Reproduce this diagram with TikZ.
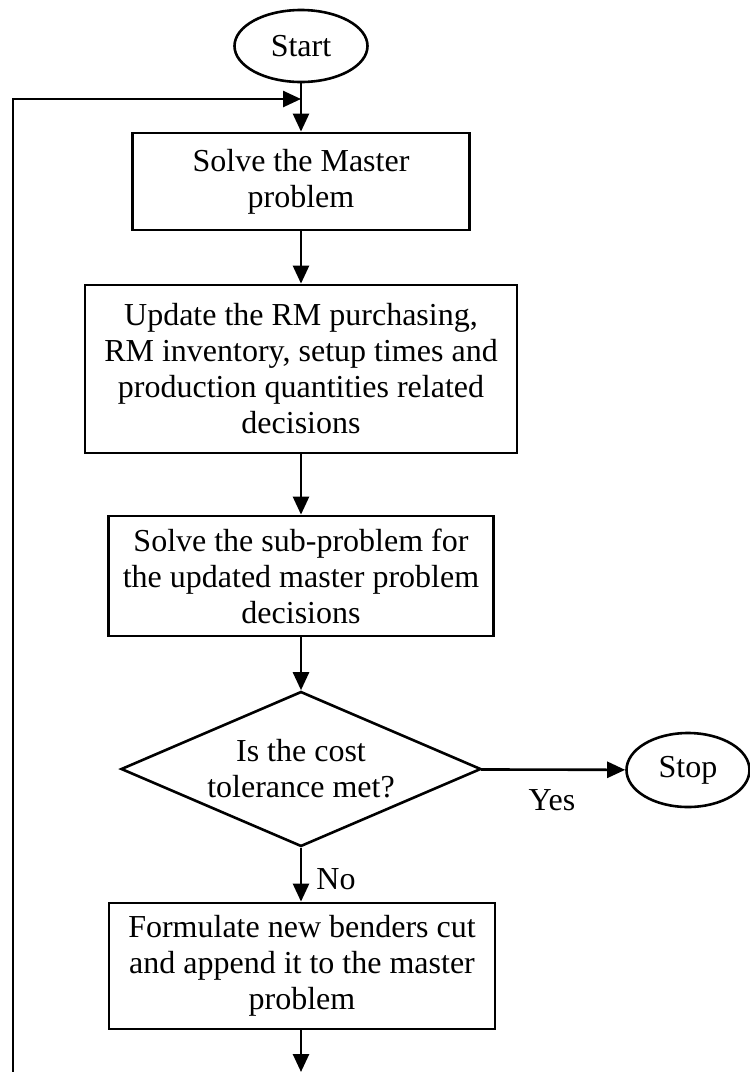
\documentclass[tikz,border=0pt]{standalone}
\usepackage{fontspec}
\setmainfont{Liberation Serif}
\usetikzlibrary{shapes.geometric,arrows.meta}
\begin{document}
\begin{tikzpicture}[x=1pt,y=1pt,
  every node/.style={font=\fontsize{32}{36}\selectfont},
  procbox/.style={draw,line width=2.8pt,rectangle,align=center,inner sep=0pt},
  term/.style={draw,line width=2.6pt,ellipse,inner sep=0pt},
  decide/.style={draw,line width=2.6pt,diamond,align=center,inner sep=-14pt,shape aspect=2.32,minimum width=360pt,minimum height=155pt},
  arr/.style={line width=2.6pt,-{Triangle[length=18pt,width=16pt]}},
  plain/.style={line width=2.6pt}]
\useasboundingbox (0,0) rectangle (750,-1072);
\node[term,minimum width=133pt,minimum height=72pt] (start) at (301,-46) {Start};
\node[procbox,minimum width=337pt,minimum height=97pt] (b1) at (301,-181.5) {Solve the Master\\problem};
\node[procbox,minimum width=432pt,minimum height=168pt] (b2) at (301,-369) {Update the RM purchasing,\\RM inventory, setup times and\\production quantities related\\decisions};
\node[procbox,minimum width=385pt,minimum height=120pt] (b3) at (301,-576) {Solve the sub-problem for\\the updated master problem\\decisions};
\node[decide] (dec) at (301,-769) {Is the cost\\tolerance met?};
\node[term,minimum width=123pt,minimum height=74pt] (stop) at (688,-770) {Stop};
\node[procbox,minimum width=386pt,minimum height=126pt] (b4) at (302,-966) {Formulate new benders cut\\and append it to the master\\problem};
\node (yes) at (552,-800) {Yes};
\node (no) at (336,-879) {No};
\coordinate (bot) at (dec.south |- 0,-1072);
\coordinate (lb) at (13,-1075);
\coordinate (lt) at (13,-99);
\coordinate (join) at (start.south |- 0,-99);
\draw[arr] (start) -- (b1);
\draw[arr] (b1) -- (b2);
\draw[arr] (b2) -- (b3);
\draw[arr] (b3) -- (dec);
\draw[arr] (dec) -- (stop);
\draw[arr] (dec.south) -- (dec.south |- b4.north);
\draw[arr] (dec.south |- b4.south) -- (bot);
\draw[arr] (lb) -- (lt) -- (join);
\end{tikzpicture}
\end{document}
